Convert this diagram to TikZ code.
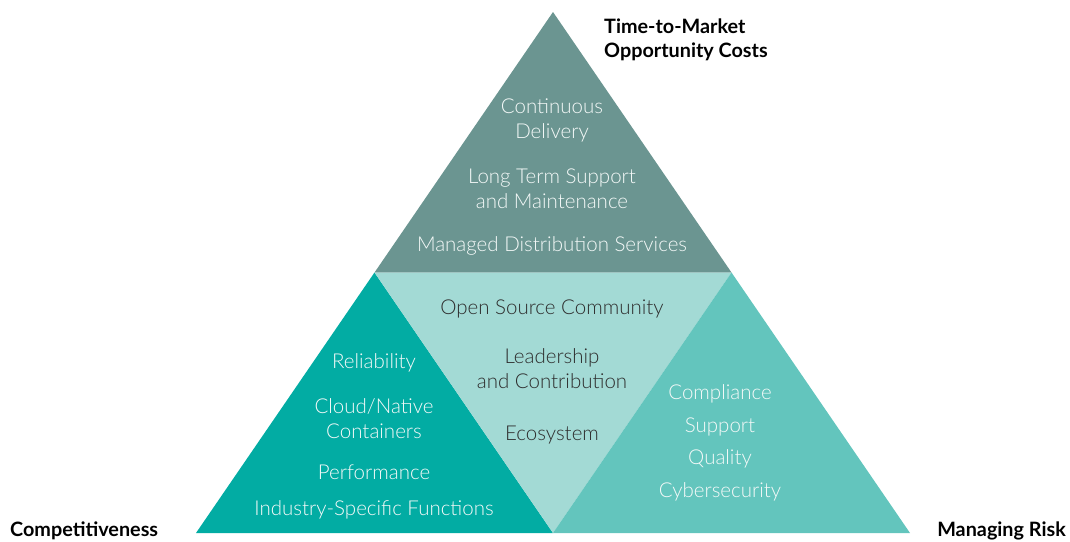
\documentclass[tikz,border=0pt]{standalone}
\usepackage{fontspec}
\setmainfont{Lato}[UprightFont=* Light, BoldFont=* Bold]
\definecolor{topc}{HTML}{6B9591}
\definecolor{leftc}{HTML}{02ACA3}
\definecolor{midc}{HTML}{A3DAD5}
\definecolor{rightc}{HTML}{63C5BD}
\definecolor{lighttxt}{HTML}{F4F9F8}
\definecolor{darktxt}{HTML}{2E2E2E}
\begin{document}
\begin{tikzpicture}[x=1pt,y=-1pt,
  item/.style={align=center,font=\fontsize{20.5}{25}\selectfont,inner sep=0pt},
  lt/.style={item,text=lighttxt},
  dk/.style={item,text=darktxt},
  corner/.style={font=\bfseries\fontsize{19.8}{24}\selectfont,inner sep=0pt,text=black}]
\useasboundingbox (0,0) rectangle (1070,541);
\coordinate (A) at (553,12);
\coordinate (BL) at (196,533);
\coordinate (BR) at (910,533);
\coordinate (ML) at (374.5,272.5);
\coordinate (MR) at (731.5,272.5);
\coordinate (MB) at (553,533);
\fill[topc] (A) -- (MR) -- (ML) -- cycle;
\fill[leftc] (ML) -- (MB) -- (BL) -- cycle;
\fill[midc] (ML) -- (MR) -- (MB) -- cycle;
\fill[rightc] (MR) -- (BR) -- (MB) -- cycle;
% top
\node[lt] (t1) at (552,120) {Continuous\\Delivery};
\node[lt] (t2) at (552,189) {Long Term Support\\and Maintenance};
\node[lt] (t3) at (552,246) {Managed Distribution Services};
% middle
\node[dk] (m1) at (552,309) {Open Source Community};
\node[dk] (m2) at (552,369) {Leadership\\and Contribution};
\node[dk] (m3) at (552,435) {Ecosystem};
% left
\node[lt] (l1) at (374,363) {Reliability};
\node[lt] (l2) at (374,419) {Cloud/Native\\Containers};
\node[lt] (l3) at (374,472) {Performance};
\node[lt] (l4) at (374,510) {Industry-Specific Functions};
% right
\node[lt] (r1) at (720,394) {Compliance};
\node[lt] (r2) at (720,427) {Support};
\node[lt] (r3) at (720,459) {Quality};
\node[lt] (r4) at (720,492) {Cybersecurity};
% corner labels
\node[corner,anchor=west,align=left] (c1) at (604,40) {Time-to-Market\\Opportunity Costs};
\node[corner,anchor=west] (c2) at (10,531) {Competitiveness};
\node[corner,anchor=east] (c3) at (1066,531) {Managing Risk};
\end{tikzpicture}
\end{document}
